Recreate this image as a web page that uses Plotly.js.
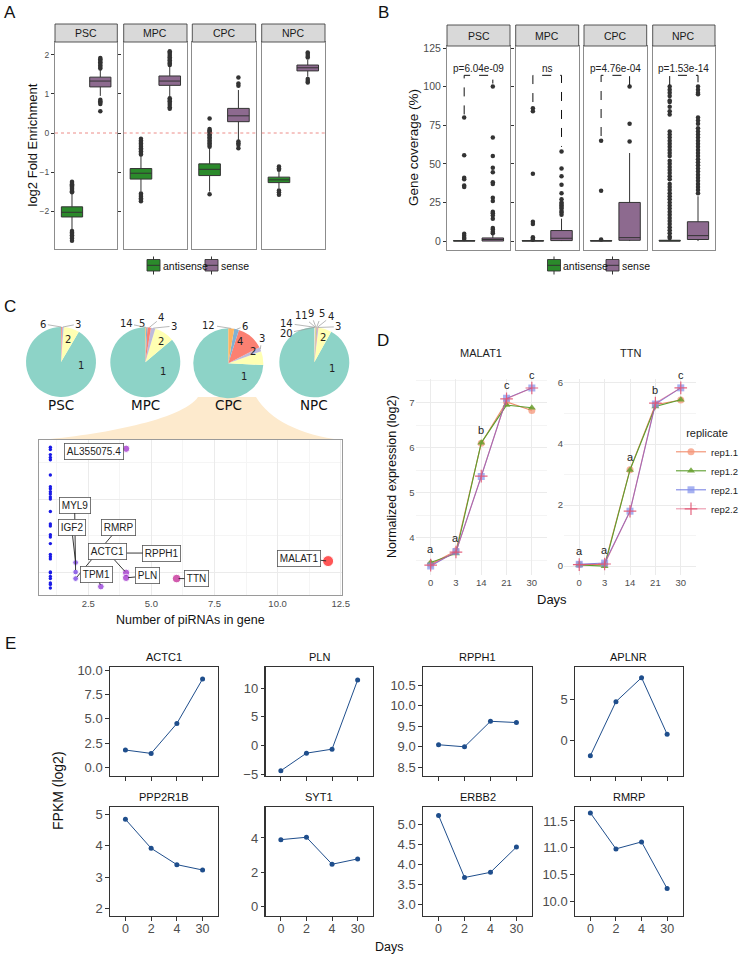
<!DOCTYPE html>
<html><head><meta charset="utf-8">
<script src="https://cdn.plot.ly/plotly-3.0.1.min.js"></script>
<style>html,body{margin:0;padding:0;background:#fff;} #chart{width:745px;height:959px;}</style>
</head><body><div id="chart"></div>
<script>
// ================= DATA =================
const stages = ['PSC', 'MPC', 'CPC', 'NPC'];
const strands = ['antisense', 'sense'];

// Panel A: log2 fold enrichment, box statistics [antisense, sense] per stage
const enrichQ1     = [[-2.15, 1.18], [-1.18, 1.22], [-1.09, 0.29], [-1.27, 1.59]];
const enrichMedian = [[-2.03, 1.33], [-1.03, 1.33], [-0.93, 0.44], [-1.20, 1.67]];
const enrichQ3     = [[-1.89, 1.43], [-0.91, 1.46], [-0.79, 0.63], [-1.13, 1.74]];
const enrichLow    = [[-2.48, 0.95], [-1.50, 0.93], [-1.50, -0.18], [-1.42, 1.44]];
const enrichHigh   = [[-1.55, 1.62], [-0.58, 1.70], [-0.38, 1.10], [-0.99, 1.87]];
const enrichOutliers = [
  [[-1.25,-1.28,-1.31,-1.34,-1.37,-1.40,-1.43,-1.46,-1.49,-1.52,-2.51,-2.55,-2.58,-2.62,-2.66,-2.70,-2.76],
   [1.65,1.69,1.73,1.77,1.81,1.85,1.89,1.92,0.85,0.81,0.78,0.74,0.56]],
  [[-0.15,-0.19,-0.23,-0.27,-0.31,-0.35,-0.39,-0.43,-0.47,-0.51,-0.55,-1.55,-1.59,-1.63,-1.67,-1.71,-1.75],
   [1.74,1.78,1.82,1.86,1.90,1.94,1.98,2.02,2.06,2.09,0.89,0.85,0.81,0.77,0.72,0.66,0.62]],
  [[0.37,0.10,0.07,0.04,0.01,-0.03,-0.07,-0.11,-0.15,-0.19,-0.23,-0.27,-0.31,-0.35,-1.57],
   [1.42,1.27,1.21,-0.22,-0.26,-0.31,-0.39]],
  [[-0.86,-0.90,-0.94,-1.47,-1.52,-1.58],
   [2.06,2.02,1.97,1.93,1.38,1.33,1.29]]
];

// Panel B: gene coverage (%), box statistics [antisense, sense] per stage
const coverQ1     = [[0, 0], [0, 0.3], [0, 0.5], [0, 1.0]];
const coverMedian = [[0, 1.0], [0, 1.8], [0, 2.2], [0, 3.5]];
const coverQ3     = [[0.3, 2.0], [0.3, 6.8], [0.3, 25.0], [0.5, 12.5]];
const coverLow    = [[0, 0], [0, 0], [0, 0], [0, 0]];
const coverHigh   = [[0.6, 4.5], [0.6, 14.5], [0.6, 57.0], [1.0, 29.0]];
const coverOutliers = [
  [[80,55.5,41,40,36,35,4.8,3.5,2.2,1.3],
   [100,67,55,47.5,44.5,38,37,28,26,19,18,16.5,14.5,8.5,7.5,6,5]],
  [[86,84,43.5,12.5,11,2.5,1.5,0.8],
   [58,47,42,36.5,31,27,25,24,23,22,21,19.5,18.5,17]],
  [[65,32.5,1],
   [100,76,64.5]],
  [[100,98,96,94,91,90,87,84,82,71,69,67,65,63,61,59,57,55,52,50,48,46,44,42,40,37,35,33,31,29,27,25,23,21,19,17,15,13,11,9,7,5,3,2],
   [100,98,96,95,80,78,76,73,71,69,67,65,63,61,59,57,55,53,51,49,47,45,43,41,39,37,35,33,31]]
];
const pBracketLeft  = [82, 90, 68, 101];
const pBracketRight = [102, 61, 101, 100];
const pBracketTop   = 107.3;
const pLabels = ['p=6.04e-09', 'ns', 'p=4.76e-04', 'p=1.53e-14'];

// Panel C: share of genes by number of piRNAs (pies)
const pieLabels = [
  ['1','2','3','6'],
  ['1','2','3','4','5','14'],
  ['1','2','3','4','6','12'],
  ['1','2','3','4','5','9','11','14','20']
];
const pieShares = [
  [91.5, 7.3, 0.8, 0.4],
  [86.2, 9.2, 2.0, 1.6, 0.6, 0.4],
  [74.2, 6.4, 2.0, 12.5, 2.2, 2.7],
  [92.0, 6.1, 0.4, 0.3, 0.3, 0.3, 0.2, 0.2, 0.2]
];
// Panel C: CPC genes, number of piRNAs vs level
const geneNames   = ['AL355075.4','MYL9','IGF2','RMRP','RPPH1','ACTC1','TPM1','PLN','TTN','MALAT1'];
const genePiRNAs  = [4, 2, 2, 2, 3, 4, 3, 4, 6, 12];
const geneLevel   = [2.69, 1.00, 1.13, 0.91, 1.26, 0.99, 0.80, 0.92, 0.91, 1.15];
const singlePiRNALevel = [2.71,2.68,2.61,2.57,2.54,2.33,2.17,2.14,2.10,2.07,2.03,2.00,1.83,1.66,1.63,1.51,1.48,1.39,1.24,1.21,1.18,1.00,0.99,0.94,0.91,0.85,0.83,0.78];
const singlePiRNACount = 1;

// Panel D: normalized expression (log2)
const dDays = ['0', '3', '14', '21', '30'];
const replicates = ['rep1.1', 'rep1.2', 'rep2.1', 'rep2.2'];
const malat1Expr = [
  [3.41, 3.71, 6.10, 7.02, 6.83],
  [3.45, 3.65, 6.11, 6.95, 6.89],
  [3.37, 3.69, 5.36, 7.10, 7.33],
  [3.39, 3.68, 5.37, 7.09, 7.33]
];
const ttnExpr = [
  [0.05, 0.05, 3.16, 5.29, 5.44],
  [0.04, 0.00, 3.15, 5.23, 5.45],
  [0.06, 0.10, 1.80, 5.31, 5.84],
  [0.05, 0.07, 1.80, 5.34, 5.84]
];
const malat1Letters = ['a', 'a', 'b', 'c', 'c'];
const ttnLetters    = ['a', 'a', 'a', 'b', 'c'];

// Panel E: FPKM (log2)
const eDays  = ['0', '2', '4', '30'];
const eGenes = ['ACTC1', 'PLN', 'RPPH1', 'APLNR', 'PPP2R1B', 'SYT1', 'ERBB2', 'RMRP'];
const eFpkm = [
  [1.78, 1.43, 4.52, 9.11],
  [-4.42, -1.35, -0.65, 11.46],
  [9.05, 9.00, 9.62, 9.59],
  [-1.80, 4.68, 7.56, 0.77],
  [4.84, 3.92, 3.40, 3.23],
  [3.90, 4.04, 2.47, 2.78],
  [5.23, 3.68, 3.81, 4.44],
  [11.65, 10.98, 11.11, 10.24]
];

// ================= LAYOUT HELPERS / STYLE =================
const W = 745, H = 959;
const PX = v => v / W;
const PY = v => 1 - v / H;
const xd = (a, b) => [a / W, b / W];
const yd = (top, bottom) => [1 - bottom / H, 1 - top / H];
const FONT = 'Liberation Sans, Arial, Helvetica, sans-serif';
const DEJAVU = 'DejaVu Sans, sans-serif';
const TICKGRAY = '#4d4d4d';

const traces = [];
const layout = {
  width: W, height: H,
  margin: {l: 0, r: 0, t: 0, b: 0, pad: 0, autoexpand: false},
  paper_bgcolor: '#ffffff', plot_bgcolor: '#ffffff',
  font: {family: FONT, size: 10, color: '#222'},
  showlegend: true,
  shapes: [], annotations: []
};
function label(obj) {
  layout.annotations.push(Object.assign({showarrow: false, xanchor: 'center', yanchor: 'middle'}, obj));
}
function txt(x, y, text, size, opts) {
  label(Object.assign({xref: 'paper', yref: 'paper', x: PX(x), y: PY(y), text: text,
    font: {family: FONT, size: size, color: '#111'}}, opts || {}));
}

// Panel letters
txt(10, 13, 'A', 17); txt(383, 13, 'B', 17); txt(10, 306, 'C', 17); txt(383, 340, 'D', 17); txt(10, 643, 'E', 17);

const strandColors = {antisense: '#2b8a2b', sense: '#8d6a8f'};

// ---------- Panels A and B (faceted boxplots) ----------
function facetPanel(cfg) {
  stages.forEach((st, i) => {
    const n = cfg.firstX + i;
    const xa = n === 1 ? 'x' : 'x' + n;
    const xkey = n === 1 ? 'xaxis' : 'xaxis' + n;
    layout[xkey] = {domain: xd(cfg.panelsX[i][0], cfg.panelsX[i][1]), anchor: cfg.ya, type: 'category',
      categoryorder: 'array', categoryarray: strands, range: [-0.6, 1.6], showticklabels: false, ticks: '',
      showline: true, mirror: true, linecolor: '#8c8c8c', linewidth: 1, showgrid: false, zeroline: false};
    strands.forEach((sd, k) => {
      traces.push({type: 'box', xaxis: xa, yaxis: cfg.ya, x: [sd],
        q1: [cfg.q1[i][k]], median: [cfg.med[i][k]], q3: [cfg.q3[i][k]],
        lowerfence: [cfg.low[i][k]], upperfence: [cfg.high[i][k]],
        width: 0.75, whiskerwidth: 0, fillcolor: strandColors[sd], line: {color: '#333', width: 1},
        boxpoints: false, showlegend: false, hoverinfo: 'skip'});
      traces.push({type: 'scatter', mode: 'markers', xaxis: xa, yaxis: cfg.ya,
        x: cfg.out[i][k].map(() => sd), y: cfg.out[i][k],
        marker: {size: 4.5, color: '#333'}, showlegend: false, hoverinfo: 'skip'});
    });
    // strip
    layout.shapes.push({type: 'rect', xref: xa + ' domain', yref: 'paper', x0: 0, x1: 1,
      y0: PY(cfg.strip[1]), y1: PY(cfg.strip[0]), fillcolor: '#d9d9d9', line: {color: '#444', width: 0.9}});
    label({xref: xa + ' domain', yref: 'paper', x: 0.5, y: PY((cfg.strip[0] + cfg.strip[1]) / 2),
      text: st, font: {family: FONT, size: 10.5, color: '#1a1a1a'}});
    if (cfg.zeroLine) {
      layout.shapes.push({type: 'line', xref: xa + ' domain', yref: cfg.ya, x0: 0, x1: 1, y0: 0, y1: 0,
        line: {color: '#e8706a', width: 0.8, dash: 'dot'}, layer: 'above'});
    }
    if (cfg.brackets) {
      traces.push({type: 'scatter', mode: 'lines', xaxis: xa, yaxis: cfg.ya,
        x: ['antisense', 'antisense', 'sense', 'sense'],
        y: [pBracketLeft[i], pBracketTop, pBracketTop, pBracketRight[i]],
        line: {color: '#111', width: 1, dash: 'dash'}, showlegend: false, hoverinfo: 'skip'});
      label({xref: xa, yref: cfg.ya, x: 0.5, y: pBracketTop, yanchor: 'bottom', yshift: -1,
        text: pLabels[i], font: {family: FONT, size: 10, color: '#222'}});
    }
  });
  const ykey = cfg.ya === 'y' ? 'yaxis' : 'yaxis' + cfg.ya.slice(1);
  layout[ykey] = Object.assign({domain: yd(cfg.plotY[0], cfg.plotY[1]), anchor: cfg.firstX === 1 ? 'x' : 'x' + cfg.firstX,
    ticks: 'outside', ticklen: 3, tickwidth: 1, tickcolor: '#333', tickfont: {size: cfg.tickSize, color: TICKGRAY},
    showline: true, mirror: 'all', linecolor: '#8c8c8c', showgrid: false, zeroline: false}, cfg.yextra);
  // manual legend (box keys)
  cfg.keys.forEach((kx, k) => {
    const sd = strands[k];
    layout.shapes.push({type: 'line', xref: 'paper', yref: 'paper', x0: PX(kx + 6.5), x1: PX(kx + 6.5), y0: PY(256.5), y1: PY(274.5), line: {color: '#333', width: 1}});
    layout.shapes.push({type: 'rect', xref: 'paper', yref: 'paper', x0: PX(kx), x1: PX(kx + 13), y0: PY(271), y1: PY(259.5), fillcolor: strandColors[sd], line: {color: '#333', width: 0.9}});
    layout.shapes.push({type: 'line', xref: 'paper', yref: 'paper', x0: PX(kx), x1: PX(kx + 13), y0: PY(265.3), y1: PY(265.3), line: {color: '#333', width: 1}});
    txt(kx + 13.5, 265.5, sd, 10.5, {xanchor: 'left'});
  });
  txt(cfg.ytitleX, (cfg.plotY[0] + cfg.plotY[1]) / 2, cfg.ytitle, cfg.ytitleSize, {textangle: -90});
}

facetPanel({
  firstX: 1, ya: 'y',
  panelsX: [[55, 117.3], [123.7, 187], [192.3, 255.7], [261.7, 325]],
  plotY: [42, 249], strip: [24, 42],
  q1: enrichQ1, med: enrichMedian, q3: enrichQ3, low: enrichLow, high: enrichHigh, out: enrichOutliers,
  zeroLine: true, brackets: false, tickSize: 8.5,
  yextra: {range: [-2.97, 2.33], tickvals: [-2, -1, 0, 1, 2]},
  keys: [147, 205], ytitle: 'log2 Fold Enrichment', ytitleX: 32, ytitleSize: 13
});
facetPanel({
  firstX: 5, ya: 'y2',
  panelsX: [[447, 510], [515.7, 578.7], [584, 646.7], [652.7, 715]],
  plotY: [46, 250], strip: [25, 46],
  q1: coverQ1, med: coverMedian, q3: coverQ3, low: coverLow, high: coverHigh, out: coverOutliers,
  zeroLine: false, brackets: true, tickSize: 10.5,
  yextra: {range: [-5.8, 126.3], tickvals: [0, 25, 50, 75, 100, 125]},
  keys: [547.5, 606], ytitle: 'Gene coverage (%)', ytitleX: 413, ytitleSize: 13.5
});

// ---------- Panel C: pies ----------
const set3 = ['#8dd3c7', '#ffffb3', '#bebada', '#fb8072', '#80b1d3', '#fdb462', '#b3de69', '#fccde5', '#d9d9d9'];
const pieCenters = [[61, 362], [145.3, 362.3], [228.3, 363.3], [314.3, 362.3]];
const pieRadius = 35;
const pieLabelOffsets = [
  [[20, 3], [6.7, -22.7], [17.3, -38], [-17.7, -38]],
  [[18, 8.7], [15.7, -20.6], [28.7, -36.3], [16, -44.6], [-3, -38.3], [-19.3, -39]],
  [[16, 13.4], [25, -11.6], [33.4, -25], [11.7, -21.6], [16.7, -37.3], [-19.3, -38.3]],
  [[17.4, 6], [8.4, -25], [24, -35.6], [16.4, -45.6], [7.4, -48.3], [-3.6, -49], [-13.3, -47.3], [-27.6, -39], [-28.3, -29]]
];
const pieLabelOutside = [
  [false, false, true, true],
  [false, false, true, true, true, true],
  [false, false, true, false, true, true],
  [false, false, true, true, true, true, true, true, true]
];
// zoom fan from CPC pie to scatter
layout.shapes.push({type: 'path', xref: 'paper', yref: 'paper', layer: 'below', fillcolor: '#fdeacd', line: {width: 0},
  path: `M ${PX(198)} ${PY(397)} C ${PX(182)} ${PY(420)} ${PX(100)} ${PY(435)} ${PX(39)} ${PY(440)} L ${PX(342)} ${PY(440)} C ${PX(300)} ${PY(435)} ${PX(270)} ${PY(420)} ${PX(256)} ${PY(397)} Z`});

stages.forEach((st, i) => {
  const [cx, cy] = pieCenters[i];
  const tot = pieShares[i].reduce((a, b) => a + b, 0);
  traces.push({type: 'pie', values: pieShares[i], labels: pieLabels[i], sort: false, direction: 'counterclockwise',
    rotation: 360 * (1 - pieShares[i][0] / tot), textinfo: 'none', hoverinfo: 'skip', showlegend: false,
    marker: {colors: set3.slice(0, pieShares[i].length), line: {width: 0}},
    domain: {x: [(cx - pieRadius) / W, (cx + pieRadius) / W], y: [1 - (cy + pieRadius) / H, 1 - (cy - pieRadius) / H]}});
  let cum = 0;
  pieShares[i].forEach((v, k) => {
    const a0 = 90 + cum / tot * 360; cum += v; const a1 = 90 + cum / tot * 360;
    const mid = (a0 + a1) / 2 * Math.PI / 180;
    const lx = cx + pieLabelOffsets[i][k][0], ly = cy + pieLabelOffsets[i][k][1];
    const f = {family: DEJAVU, size: 10, color: '#222'};
    if (pieLabelOutside[i][k]) {
      const rx = cx + pieRadius * Math.cos(mid), ry = cy - pieRadius * Math.sin(mid);
      layout.annotations.push({xref: 'paper', yref: 'paper', x: PX(rx), y: PY(ry), ax: lx - rx, ay: ly - ry,
        text: pieLabels[i][k], showarrow: true, arrowhead: 0, arrowwidth: 0.7, arrowcolor: '#9a9a9a', standoff: 0, font: f});
    } else {
      txt(lx, ly, pieLabels[i][k], 10, {font: f});
    }
  });
  txt(cx, 405, st, 13.5, {font: {family: DEJAVU, size: 13.5, color: '#111'}});
});

// ---------- Panel C: scatter ----------
const piColorscale = [[0, '#1a1ae6'], [0.0909, '#6a2ee0'], [0.1818, '#8a28d4'], [0.2727, '#9a20c8'], [0.4545, '#c0168c'], [1, '#ff1010']];
const sizeFor = n => 3.4 + 7.6 * Math.sqrt((n - 1) / 11);
layout.xaxis9 = {domain: xd(39, 342), anchor: 'y3', range: [0.55, 12.55], tick0: 0, dtick: 2.5, tickformat: '.1f',
  showgrid: true, gridcolor: '#ebebeb', minor: {tick0: 1.25, dtick: 2.5, showgrid: true, gridcolor: '#f5f5f5'},
  showline: true, mirror: true, linecolor: '#9a9a9a', ticks: '', tickfont: {size: 9.5, color: TICKGRAY}, zeroline: false};
layout.yaxis3 = {domain: yd(440, 595), anchor: 'x9', range: [0.685, 2.81], tick0: 0, dtick: 1, showticklabels: false,
  showgrid: true, gridcolor: '#ebebeb', minor: {dtick: 0.5, showgrid: true, gridcolor: '#f5f5f5'},
  showline: true, mirror: true, linecolor: '#9a9a9a', ticks: '', zeroline: false};
txt(190.5, 620, 'Number of piRNAs in gene', 12.5);
traces.push({type: 'scatter', mode: 'markers', xaxis: 'x9', yaxis: 'y3',
  x: singlePiRNALevel.map(() => singlePiRNACount), y: singlePiRNALevel,
  marker: {size: sizeFor(singlePiRNACount), color: singlePiRNALevel.map(() => singlePiRNACount), colorscale: piColorscale, cmin: 1, cmax: 12},
  showlegend: false, hoverinfo: 'skip'});
traces.push({type: 'scatter', mode: 'markers', xaxis: 'x9', yaxis: 'y3', x: genePiRNAs, y: geneLevel, text: geneNames,
  marker: {size: genePiRNAs.map(sizeFor), color: genePiRNAs, colorscale: piColorscale, cmin: 1, cmax: 12},
  showlegend: false, hoverinfo: 'skip'});
const labelOffsets = {'AL355075.4': [-32, 3], 'MYL9': [-1, -67], 'IGF2': [-4, -35], 'RMRP': [43, -51], 'RPPH1': [61, 0],
  'ACTC1': [-19, -21], 'TPM1': [-4, -12], 'PLN': [21, -2], 'TTN': [20, 0], 'MALAT1': [-29, -3]};
geneNames.forEach((g, k) => {
  layout.annotations.push({xref: 'x9', yref: 'y3', x: genePiRNAs[k], y: geneLevel[k], text: g,
    showarrow: true, arrowhead: 0, arrowwidth: 0.9, arrowcolor: '#222', standoff: 2,
    ax: labelOffsets[g][0], ay: labelOffsets[g][1],
    bgcolor: '#ffffff', bordercolor: '#555', borderwidth: 0.8, borderpad: 2,
    font: {family: FONT, size: 10, color: '#222'}});
});

// ---------- Panel D ----------
const repColors = ['#f08c6c', '#5c9e2e', 'rgba(110,120,225,0.9)', 'rgba(220,80,115,0.6)'];
const repMarkerColors = ['rgba(246,150,120,0.75)', 'rgba(104,160,48,0.85)', 'rgba(130,145,235,0.7)', 'rgba(225,85,115,0.9)'];
const repSymbols = ['circle', 'triangle-up', 'square', 'cross-thin'];
const dPanels = [
  {xa: 'x10', ya: 'y4', xk: 'xaxis10', yk: 'yaxis4', xr: [415.5, 547], vals: malat1Expr, letters: malat1Letters,
   title: 'MALAT1', yr: [3.17, 7.53], dtick: 1, minor: 0.5},
  {xa: 'x11', ya: 'y5', xk: 'xaxis11', yk: 'yaxis5', xr: [564, 696], vals: ttnExpr, letters: ttnLetters,
   title: 'TTN', yr: [-0.29, 6.13], dtick: 2, minor: 1}
];
dPanels.forEach((p, pi) => {
  layout[p.xk] = {domain: xd(p.xr[0], p.xr[1]), anchor: p.ya, type: 'category', categoryorder: 'array', categoryarray: dDays,
    range: [-0.6, 4.6], showgrid: true, gridcolor: '#ebebeb', showline: false, ticks: '', zeroline: false,
    tickfont: {size: 9.5, color: TICKGRAY}};
  layout[p.yk] = {domain: yd(379, 575), anchor: p.xa, range: p.yr, dtick: p.dtick, tick0: 0, showgrid: true, gridcolor: '#ebebeb',
    minor: {dtick: p.minor, showgrid: true, gridcolor: '#f4f4f4'}, showline: false, ticks: '', zeroline: false,
    tickfont: {size: 9.5, color: TICKGRAY}};
  replicates.forEach((r, k) => {
    traces.push({type: 'scatter', mode: 'lines+markers', xaxis: p.xa, yaxis: p.ya, x: dDays, y: p.vals[k], name: r,
      legendgroup: r, showlegend: pi === 0,
      line: {color: repColors[k], width: 1.1},
      marker: {symbol: repSymbols[k], size: k === 3 ? 9 : 7, color: repMarkerColors[k],
        line: {color: repMarkerColors[k], width: k === 3 ? 1.2 : 0}},
      hoverinfo: 'skip'});
  });
  p.letters.forEach((l, d) => {
    const top = Math.max(...p.vals.map(v => v[d]));
    label({xref: p.xa, yref: p.ya, x: d, y: top, yshift: 13, text: l, font: {family: FONT, size: 11, color: '#222'}});
  });
  label({xref: p.xa + ' domain', yref: 'paper', x: 0.5, y: PY(353), text: p.title, font: {family: FONT, size: 11, color: '#222'}});
});
txt(392, 477, 'Normalized expression (log2)', 12.5, {textangle: -90});
txt(552, 599, 'Days', 13);
layout.legend = {x: PX(671), xanchor: 'left', y: PY(423), yanchor: 'top', bgcolor: 'rgba(0,0,0,0)',
  font: {family: FONT, size: 9.5, color: '#222'}, itemwidth: 30, tracegroupgap: 0,
  title: {text: 'replicate', font: {family: FONT, size: 11, color: '#222'}, side: 'top center'}};

// ---------- Panel E ----------
const eCols = [[110, 218], [265.5, 373], [423, 532], [575, 682.5]];
const eRows = [[667, 776], [807, 916]];
const eYRange = [[-0.9, 10.35], [-5.35, 13.74], [8.29, 10.94], [-4.24, 8.84], [1.77, 5.23], [-0.54, 5.8], [2.72, 5.44], [9.73, 11.76]];
const eDtick = [2.5, 5, 0.5, 5, 1, 2, 0.5, 0.5];
const eTickFmt = ['.1f', '', '.1f', '', '', '', '.1f', '.1f'];
eGenes.forEach((g, j) => {
  const col = j % 4, row = Math.floor(j / 4);
  const xi = 12 + j, yi = 6 + j;
  layout['xaxis' + xi] = {domain: xd(eCols[col][0], eCols[col][1]), anchor: 'y' + yi, type: 'category',
    categoryorder: 'array', categoryarray: eDays, range: [-0.6, 3.6], showline: true, mirror: true,
    linecolor: '#333', linewidth: 1.2, ticks: 'outside', ticklen: 3.5, tickcolor: '#333', showticklabels: row === 1,
    ticklabelstandoff: -3, tickfont: {size: 12.5, color: TICKGRAY}, showgrid: false, zeroline: false};
  layout['yaxis' + yi] = {domain: yd(eRows[row][0], eRows[row][1]), anchor: 'x' + xi, range: eYRange[j], dtick: eDtick[j],
    tick0: 0, tickformat: eTickFmt[j], showline: true, mirror: true, linecolor: '#333', linewidth: 1.2,
    ticks: 'outside', ticklen: 3.5, tickcolor: '#333', tickfont: {size: 13, color: TICKGRAY}, showgrid: false, zeroline: false};
  traces.push({type: 'scatter', mode: 'lines+markers', xaxis: 'x' + xi, yaxis: 'y' + yi, x: eDays, y: eFpkm[j],
    line: {color: '#1f4e8c', width: 1}, marker: {size: 5, color: '#1f4e8c'}, showlegend: false, hoverinfo: 'skip'});
  label({xref: 'x' + xi + ' domain', yref: 'paper', x: 0.5, y: PY(eRows[row][0] - 10), text: g,
    font: {family: FONT, size: 11, color: '#111'}});
});
txt(58, 791, 'FPKM (log2)', 14, {textangle: -90});
txt(389, 947, 'Days', 12.5);

Plotly.newPlot('chart', traces, layout, {staticPlot: true, displayModeBar: false});
</script>
</body></html>
